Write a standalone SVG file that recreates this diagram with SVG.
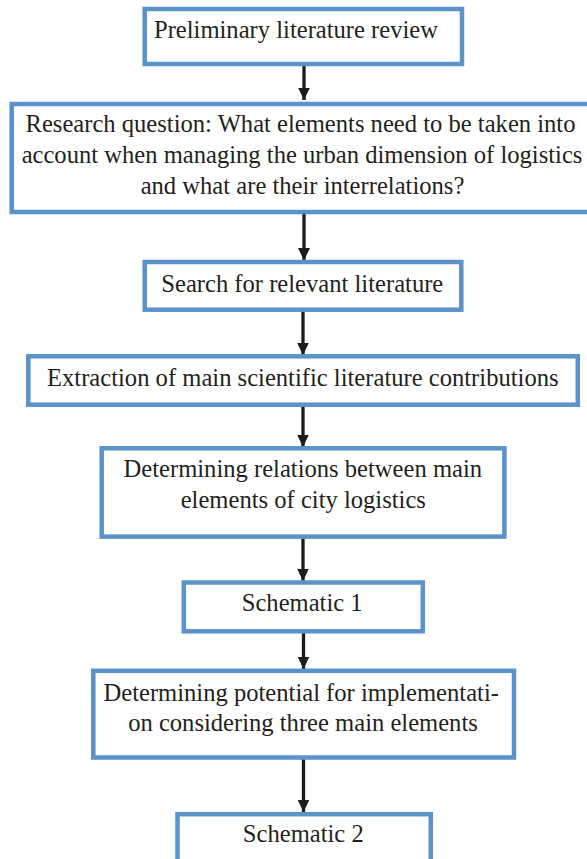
<svg xmlns="http://www.w3.org/2000/svg" width="587" height="859" viewBox="0 0 587 859">
  <style>
    .box { fill: #ffffff; stroke: #5b92c9; stroke-width: 4.5; }
    .lbl { font-family: "Liberation Serif", "Times New Roman", serif; font-size: 24.6px; fill: #231f20; text-anchor: middle; }
    .link { stroke: #1c1c1c; stroke-width: 3.3; fill: none; marker-end: url(#head); }
  </style>
  <defs>
    <marker id="head" markerUnits="userSpaceOnUse" markerWidth="13" markerHeight="13" viewBox="0 0 13 13" refX="12.5" refY="6.5" orient="auto">
      <path d="M0,0.5 L12.5,6.5 L0,12.5 z" fill="#1c1c1c"/>
    </marker>
  </defs>
  <rect width="587" height="859" fill="#ffffff"/>

  <!-- connectors -->
  <g id="connectors">
    <line class="link" x1="304" y1="65" x2="304" y2="100"/>
    <line class="link" x1="304" y1="213" x2="304" y2="260.5"/>
    <line class="link" x1="303" y1="311" x2="303" y2="355"/>
    <line class="link" x1="303" y1="406" x2="303" y2="447"/>
    <line class="link" x1="303" y1="538" x2="303" y2="581"/>
    <line class="link" x1="303.5" y1="632.5" x2="303.5" y2="669"/>
    <line class="link" x1="303.5" y1="759" x2="303.5" y2="812"/>
  </g>

  <!-- process steps -->
  <g id="step-review">
    <rect class="box" x="144.7" y="9" width="317.3" height="55"/>
    <text class="lbl" x="296" y="38.3">Preliminary literature review</text>
  </g>

  <g id="step-question">
    <rect class="box" x="11.7" y="104" width="582" height="108"/>
    <text class="lbl" x="300.5" y="131.5">Research question: What elements need to be taken into</text>
    <text class="lbl" x="302" y="162.5">account when managing the urban dimension of logistics</text>
    <text class="lbl" x="302.5" y="194">and what are their interrelations?</text>
  </g>

  <g id="step-search">
    <rect class="box" x="144.7" y="262" width="316.6" height="47.7"/>
    <text class="lbl" x="302.3" y="291.7">Search for relevant literature</text>
  </g>

  <g id="step-extraction">
    <rect class="box" x="28.3" y="356.3" width="549.5" height="48.4"/>
    <text class="lbl" x="302.8" y="385.5">Extraction of main scientific literature contributions</text>
  </g>

  <g id="step-relations">
    <rect class="box" x="101.7" y="448.3" width="402.7" height="88.3"/>
    <text class="lbl" x="302.8" y="477.3">Determining relations between main</text>
    <text class="lbl" x="303.3" y="508.3">elements of city logistics</text>
  </g>

  <g id="step-schematic1">
    <rect class="box" x="183.8" y="582.5" width="239" height="48.8"/>
    <text class="lbl" x="302.2" y="611">Schematic 1</text>
  </g>

  <g id="step-potential">
    <rect class="box" x="93.3" y="670.8" width="420.7" height="86.7"/>
    <text class="lbl" x="301.2" y="700.7">Determining potential for implementati-</text>
    <text class="lbl" x="303" y="730.7">on considering three main elements</text>
  </g>

  <g id="step-schematic2">
    <rect class="box" x="177.5" y="814.2" width="253.3" height="60"/>
    <text class="lbl" x="303.3" y="841.7">Schematic 2</text>
  </g>
</svg>
